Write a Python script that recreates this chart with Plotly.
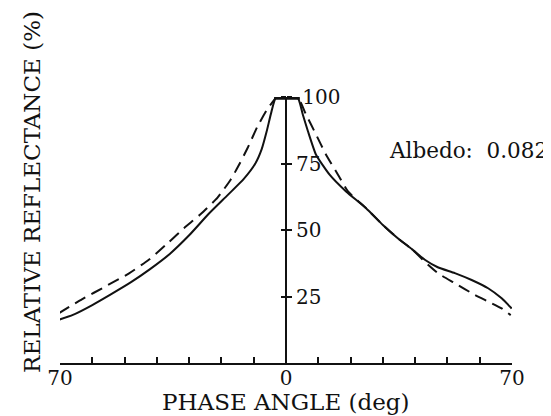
import plotly.graph_objects as go

# Solid curve (phase angle in deg, relative reflectance in %)
phase_solid = [-70.5, -66, -60, -54, -48, -42, -36, -30, -24, -18, -13, -9.5, -7.5, -6, -4.5, -3,
               3.5, 5.2, 6.8, 9.3, 13.5, 18.6, 24.8, 30, 35, 39, 43, 47, 52.3, 57.5, 62.6, 66.8, 69.9]
refl_solid = [16.2, 18.1, 21.8, 26.0, 30.4, 35.4, 41.0, 48.0, 56.0, 63.2, 69.3, 75.0, 80.5, 87.0, 94.5, 100,
              100, 93.4, 87.1, 78.3, 70.8, 64.5, 58.2, 51.9, 46.5, 42.8, 38.8, 36.0, 33.8, 31.2, 28.1, 24.3, 20.5]

# Dashed curve
phase_dashed = [-70.4, -63.1, -55.9, -48.6, -42.4, -36.5, -31.6, -26.4, -21.2, -17.1, -14.5, -11.9, -8.8, -5.7, -3.6, -3,
                3.5, 6.2, 9.3, 12.4, 16.1, 19.2, 24.8, 30, 35, 39, 44, 47.1, 52.3, 58.5, 62.6, 66.8, 69.6]
refl_dashed = [18.7, 24.0, 28.8, 33.7, 38.9, 45.2, 50.7, 56.0, 62.2, 69.0, 74.6, 80.8, 89.0, 95.6, 99, 100,
               100, 93.4, 85.9, 78.3, 70.8, 64.5, 58.2, 51.9, 46.5, 42.8, 36.9, 33.7, 30.0, 25.6, 23.1, 20.5, 18.0]

# Peak plateau
peak_x = [-3.6, 4.2]
peak_y = [100, 100]

x_tickvals = [-70, -60, -50, -40, -30, -20, -10, 0, 10, 20, 30, 40, 50, 60, 70]
x_ticktext = ["70", "", "", "", "", "", "", "0", "", "", "", "", "", "", "70"]
y_tickvals = [25, 50, 75, 100]
y_ticktext = ["25", "50", "75", "\u00a0100"]

x_range = [-70, 70]
y_range = [0, 100]

FONT = "DejaVu Serif"
INK = "#111111"

fig = go.Figure()
fig.add_trace(go.Scatter(x=phase_solid, y=refl_solid, mode="lines",
                         line=dict(color=INK, width=2, shape="spline", smoothing=0.5),
                         cliponaxis=False, showlegend=False, hoverinfo="skip"))
fig.add_trace(go.Scatter(x=phase_dashed, y=refl_dashed, mode="lines",
                         line=dict(color=INK, width=2, dash="12px,7px", shape="spline", smoothing=0.5),
                         cliponaxis=False, showlegend=False, hoverinfo="skip"))
fig.add_trace(go.Scatter(x=peak_x, y=peak_y, mode="lines",
                         line=dict(color=INK, width=5),
                         cliponaxis=False, showlegend=False, hoverinfo="skip"))
# same plateau on the overlaid axis so that the left-side tick marks are drawn
fig.add_trace(go.Scatter(x=peak_x, y=peak_y, mode="lines", yaxis="y2",
                         line=dict(color=INK, width=5),
                         cliponaxis=False, showlegend=False, hoverinfo="skip"))

ypos = (0 - x_range[0]) / (x_range[1] - x_range[0])

fig.update_layout(
    width=551, height=416,
    margin=dict(l=52, r=47, t=89, b=61),
    paper_bgcolor="white", plot_bgcolor="white",
    font=dict(family=FONT, color=INK, size=20),
    xaxis=dict(range=x_range, showgrid=False, zeroline=False,
               showline=True, linecolor=INK, linewidth=2,
               ticks="inside", ticklen=6, tickwidth=1.5, tickcolor=INK,
               tickvals=x_tickvals, ticktext=x_ticktext, ticklabelstandoff=-4,
               tickfont=dict(family=FONT, size=20, color=INK)),
    yaxis=dict(range=y_range, showgrid=False, zeroline=False,
               anchor="free", position=ypos, side="right",
               showline=True, linecolor=INK, linewidth=2,
               ticks="outside", ticklen=5, tickwidth=2, tickcolor=INK,
               tickvals=y_tickvals, ticktext=y_ticktext, ticklabelstandoff=0,
               tickfont=dict(family=FONT, size=20, color=INK)),
    yaxis2=dict(range=y_range, overlaying="y", anchor="free", position=ypos, side="left",
                showgrid=False, zeroline=False, showline=False,
                ticks="outside", ticklen=5, tickwidth=2, tickcolor=INK,
                tickvals=y_tickvals, showticklabels=False),
    annotations=[
        dict(text="PHASE ANGLE (deg)", xref="x", yref="paper", x=0, y=-0.145,
             xanchor="center", yanchor="middle", showarrow=False,
             font=dict(family=FONT, size=23, color=INK)),
        dict(text="RELATIVE REFLECTANCE (%)", xref="paper", yref="paper", x=-0.062, y=0.643,
             xanchor="center", yanchor="middle", textangle=-90, showarrow=False,
             font=dict(family=FONT, size=23, color=INK)),
        dict(text="Albedo:\u00a0\u00a00.082", xref="paper", yref="paper", x=0.724, y=0.797,
             xanchor="left", yanchor="middle", showarrow=False,
             font=dict(family=FONT, size=21.5, color=INK)),
    ],
)

fig.write_html("out.html")
